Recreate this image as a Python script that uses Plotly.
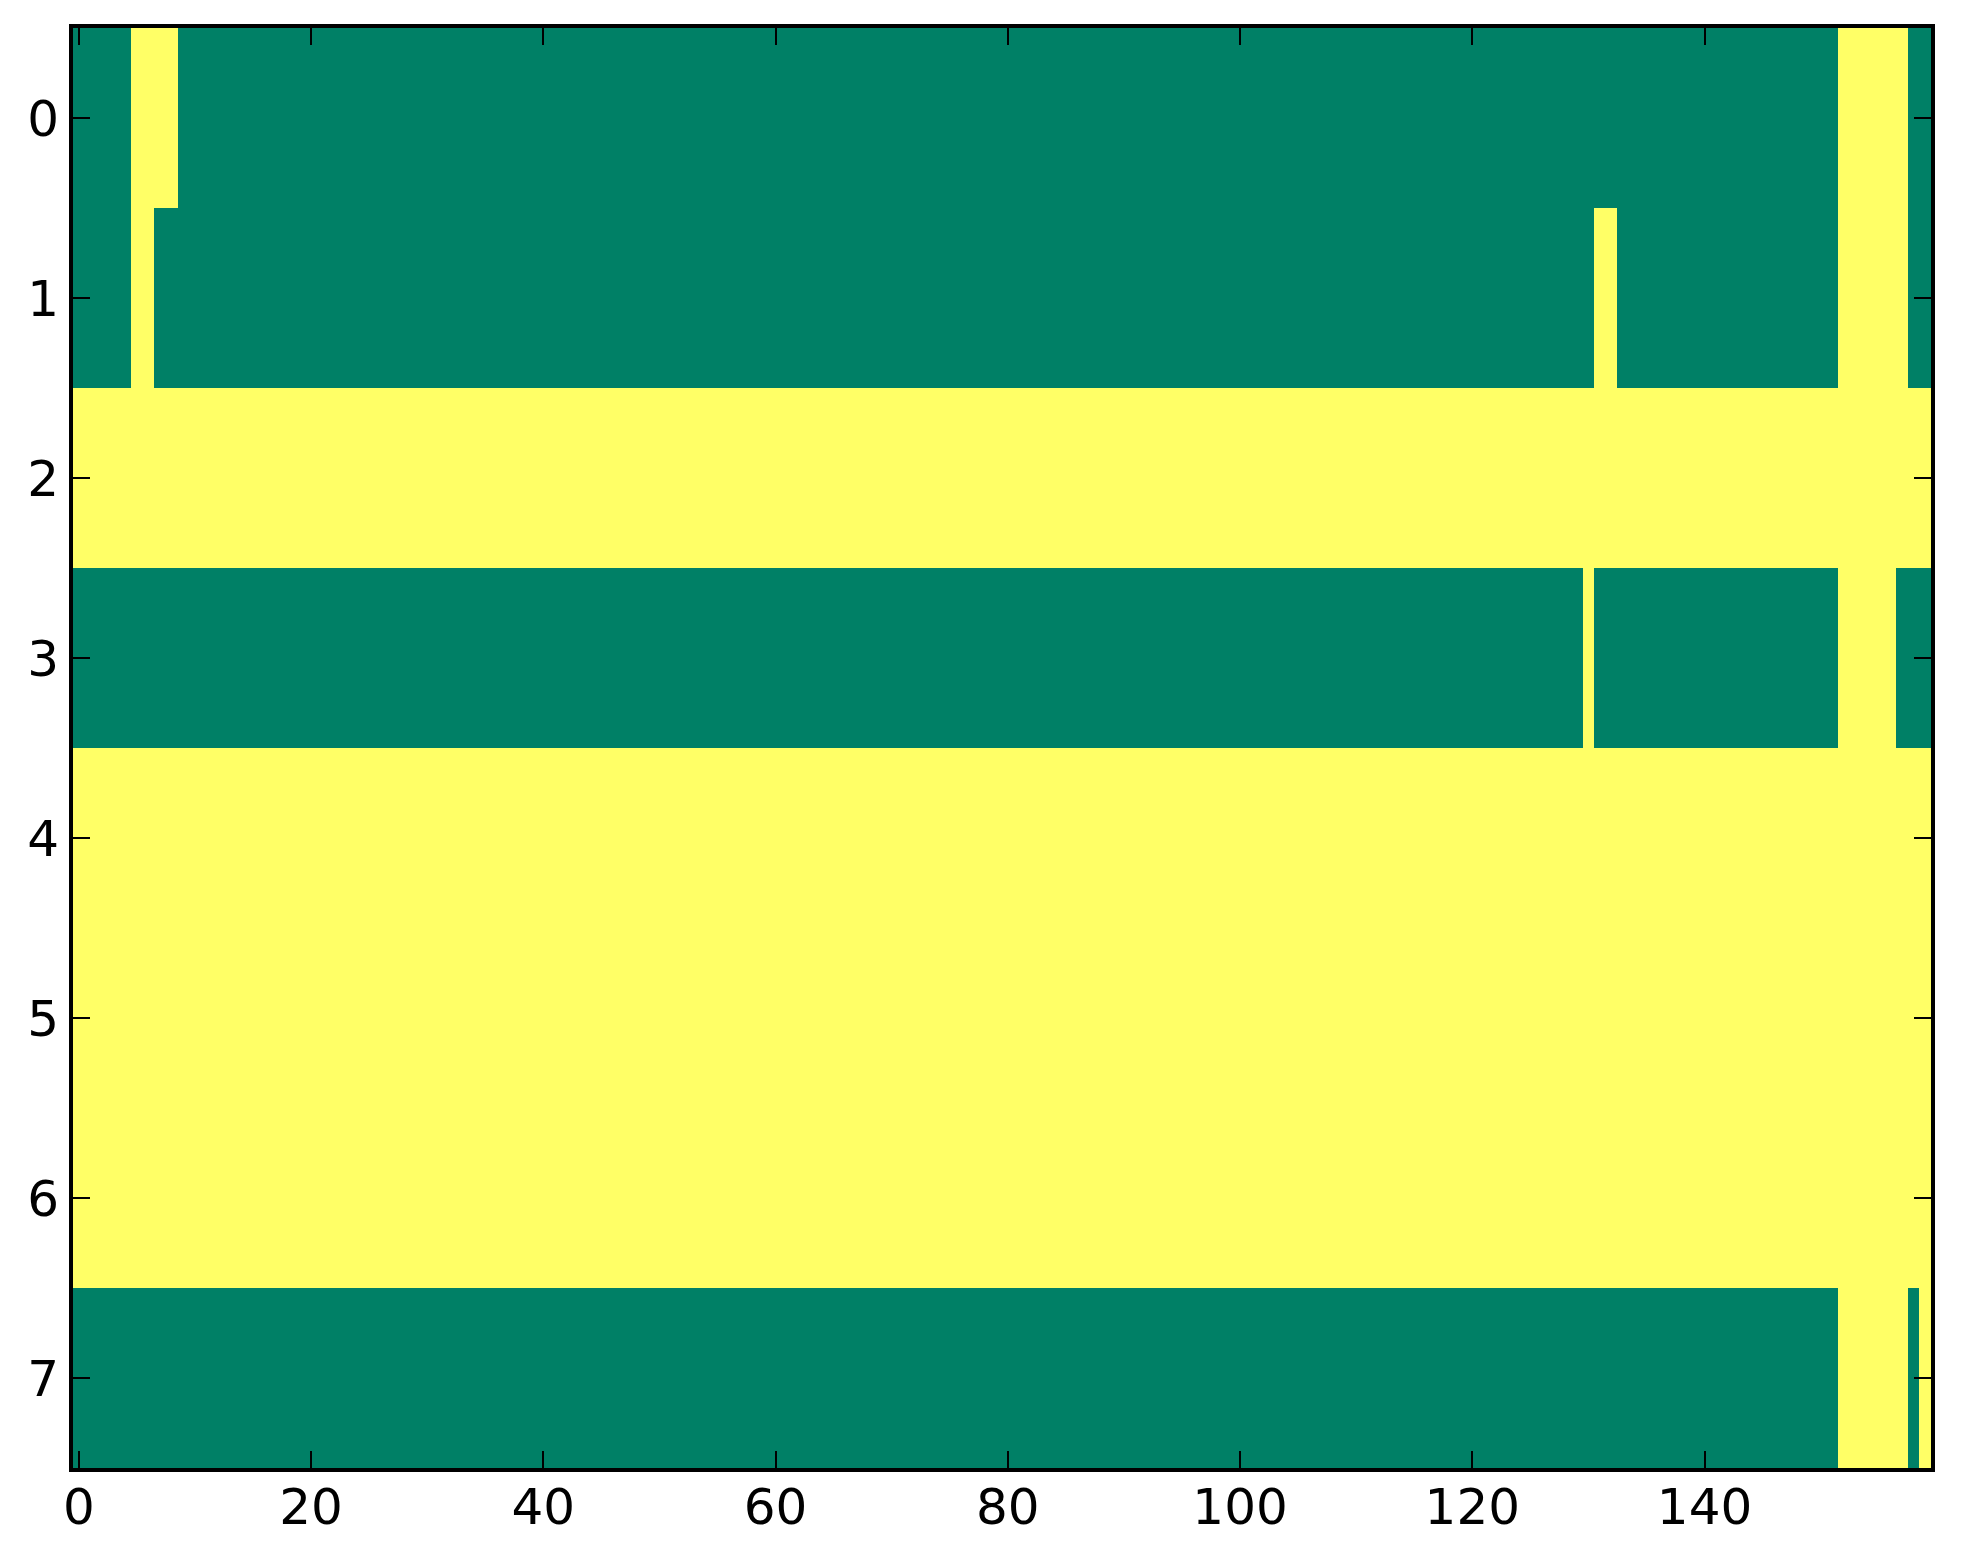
import plotly.graph_objects as go

# Each row given as run-lengths of (value, count); 0 = green, 1 = yellow
n_cols = 160
row_runs = [
    [(0, 5), (1, 4), (0, 143), (1, 6), (0, 2)],
    [(0, 5), (1, 2), (0, 124), (1, 2), (0, 19), (1, 6), (0, 2)],
    [(1, 160)],
    [(0, 130), (1, 1), (0, 21), (1, 5), (0, 3)],
    [(1, 160)],
    [(1, 160)],
    [(1, 160)],
    [(0, 152), (1, 6), (0, 1), (1, 1)],
]
x_ticks = [0, 20, 40, 60, 80, 100, 120, 140]
y_ticks = [0, 1, 2, 3, 4, 5, 6, 7]

z = []
for runs in row_runs:
    row = []
    for v, c in runs:
        row.extend([v] * c)
    z.append(row)

fig = go.Figure(go.Heatmap(
    z=z,
    x=list(range(n_cols)),
    y=list(range(len(z))),
    colorscale=[[0, '#008066'], [1, '#ffff66']],
    zmin=0, zmax=1,
    showscale=False,
    hoverinfo='skip',
))

axis_common = dict(
    showgrid=False, zeroline=False, automargin=False,
    showline=True, linecolor='black', linewidth=4, mirror='ticks',
    ticks='inside', ticklen=17, tickwidth=2, tickcolor='black',
    tickfont=dict(family='DejaVu Sans', size=50, color='black'),
)

fig.update_layout(
    width=1963, height=1564,
    margin=dict(l=65, r=40, t=20, b=104, pad=0),
    paper_bgcolor='white', plot_bgcolor='white',
    xaxis=dict(range=[-0.5, n_cols - 0.5], tickvals=x_ticks,
               ticktext=[str(t) for t in x_ticks], ticklabelstandoff=-8,
               **axis_common),
    yaxis=dict(range=[len(z) - 0.5, -0.5], tickvals=y_ticks,
               ticktext=[str(t) for t in y_ticks], ticklabelstandoff=0,
               **axis_common),
)

fig.write_html("out.html")
